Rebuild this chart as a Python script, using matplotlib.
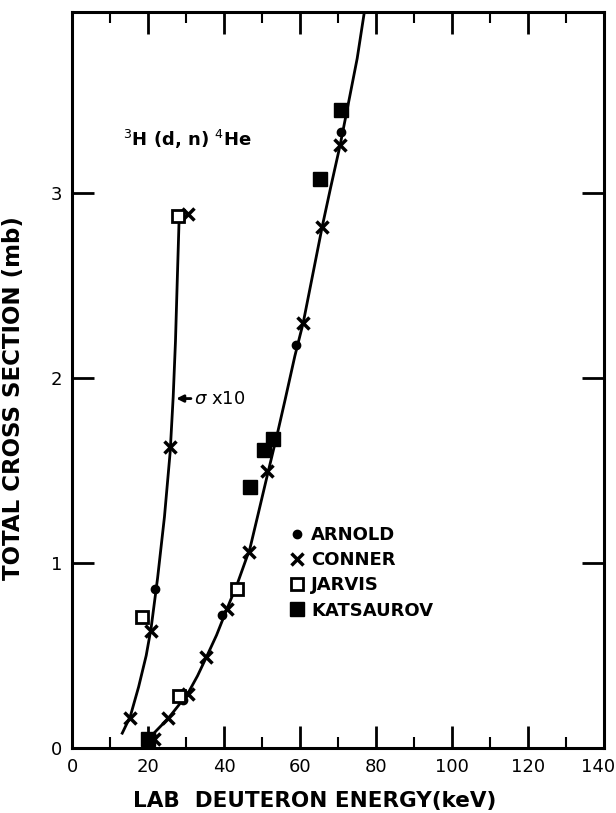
import matplotlib
matplotlib.use("Agg")
from matplotlib import pyplot as plt
from matplotlib.transforms import ScaledTranslation

# fitted curves (keV, mb)
curve_x10_e = [13.2, 15.3, 17.5, 19.5, 20.8, 22.5, 24.3, 25.8, 26.6, 27.2, 27.7, 28.2]
curve_x10_s = [0.08, 0.17, 0.33, 0.50, 0.65, 0.92, 1.25, 1.60, 1.90, 2.20, 2.55, 2.89]

curve_e = [19.7, 22.0, 25.3, 28.0, 30.6, 33.0, 35.3, 38.0, 40.7, 43.5, 46.8, 49.0,
           51.3, 54.0, 56.0, 58.6, 60.8, 63.3, 65.8, 68.0, 70.5, 73.0, 75.0, 76.8]
curve_s = [0.04, 0.09, 0.16, 0.23, 0.30, 0.39, 0.49, 0.61, 0.75, 0.89, 1.08, 1.27,
           1.47, 1.70, 1.88, 2.12, 2.30, 2.56, 2.82, 3.03, 3.26, 3.52, 3.73, 3.97]

# measured points
arnold_e = [21.0, 21.8, 29.2, 39.5, 58.9, 70.8]
arnold_s = [0.06, 0.86, 0.26, 0.72, 2.18, 3.33]

conner_e = [15.3, 20.8, 25.8, 30.5, 21.5, 25.3, 30.6, 35.3, 40.7, 46.6, 51.3, 60.8, 65.8, 70.5]
conner_s = [0.16, 0.63, 1.63, 2.89, 0.05, 0.16, 0.29, 0.49, 0.75, 1.06, 1.50, 2.30, 2.82, 3.26]

jarvis_e = [18.4, 27.9, 28.2, 43.4]
jarvis_s = [0.71, 2.88, 0.28, 0.86]

katsaurov_e = [20.0, 46.8, 50.5, 52.9, 65.3, 70.8]
katsaurov_s = [0.05, 1.41, 1.61, 1.67, 3.08, 3.45]

plt.rcParams['font.family'] = 'DejaVu Sans'

fig = plt.figure(figsize=(6.16, 8.13), dpi=100)
ax = fig.add_axes([0.117, 0.080, 0.864, 0.905])

ax.plot(curve_x10_e, curve_x10_s, color='black', lw=2.0)
ax.plot(curve_e, curve_s, color='black', lw=2.0)

ax.plot(arnold_e, arnold_s, 'o', color='black', ms=6, ls='none', label='ARNOLD')
ax.plot(conner_e, conner_s, 'x', color='black', ms=9, mew=2.5, ls='none', label='CONNER')
ax.plot(jarvis_e, jarvis_s, 's', mfc='white', mec='black', ms=9, mew=2, ls='none', label='JARVIS')
ax.plot(katsaurov_e, katsaurov_s, 's', color='black', ms=10, ls='none', label='KATSAUROV')

ax.text(13.4, 3.29, r'$^{3}$H (d, n) $^{4}$He', fontsize=13, fontweight='bold', va='center')
ax.annotate(r'$\sigma$ x10', xy=(27.4, 1.89), xytext=(32.0, 1.89), fontsize=13,
            va='center', arrowprops=dict(arrowstyle='-|>', color='black', lw=2,
                                         shrinkA=0, shrinkB=0, mutation_scale=10))

ax.set_xlim(0, 140)
ax.set_ylim(0, 3.98)
ax.set_xticks(range(0, 141, 20))
ax.set_xticks(range(10, 140, 20), minor=True)
ax.set_yticks([0, 1, 2, 3])
ax.tick_params(axis='both', which='major', direction='in', length=16, width=2,
               labelsize=13, top=True, right=True, pad=7)
ax.tick_params(axis='x', which='minor', direction='in', length=8, width=1.5, top=True)
for s in ax.spines.values():
    s.set_linewidth(2.2)

# keep the last x tick label inside the figure
last = ax.get_xticklabels()[-1]
last.set_transform(last.get_transform() + ScaledTranslation(-0.06, 0, fig.dpi_scale_trans))

ax.set_xlabel('LAB  DEUTERON ENERGY(keV)', fontsize=15.5, fontweight='bold')
ax.set_ylabel('TOTAL CROSS SECTION (mb)', fontsize=16.5, fontweight='bold')
ax.xaxis.set_label_coords(0.455, -0.058)
ax.yaxis.set_label_coords(-0.088, 0.475)

leg = ax.legend(loc='upper left', bbox_to_anchor=(0.385, 0.314), frameon=False, fontsize=13,
                handletextpad=0.2, labelspacing=0.4, handlelength=1.2, borderpad=0)
for t in leg.get_texts():
    t.set_fontweight('bold')

fig.savefig('out.png', dpi=100)
